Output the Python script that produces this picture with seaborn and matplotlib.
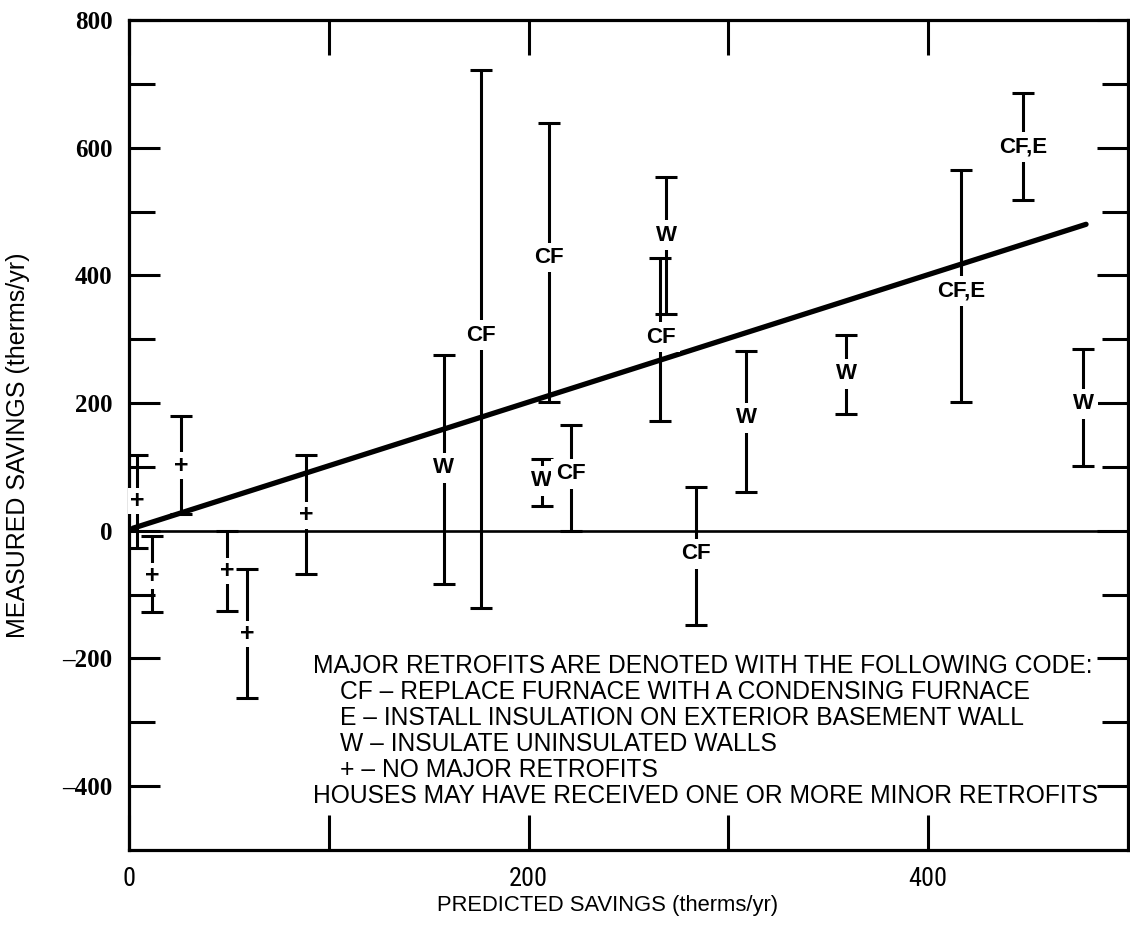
import matplotlib
matplotlib.use("Agg")
import matplotlib.pyplot as plt
import seaborn as sns
import pandas as pd

# ---------------- data ----------------
codes = ["+", "+", "+", "+", "+", "+", "W", "CF", "W", "CF", "CF", "CF", "W",
         "CF", "W", "W", "CF,E", "CF,E", "W"]
predicted = [4, 11.5, 26, 49, 59, 88.5, 157.5, 176, 206.5, 210, 221, 266, 269,
             284, 309, 359, 416.5, 447.5, 477.5]
measured_low = [-27, -127, 27, -125, -262, -68, -83, -121, 39, 201, 0, 172, 340,
                -148, 61, 183, 201, 518, 102]
measured_high = [118, -8, 180, 0, -60, 119, 276, 722, 113, 638, 166, 428, 554,
                 69, 282, 306, 565, 685, 285]
measured_mark = [47, -71, 102, -63, -162, 24, 99, 306, 78, 428, 89, 303, 463,
                 -36, 177, 246, 376, 601, 199]

fit_x = [2, 479]
fit_y = [4, 480]

x_major = [0, 200, 400]
x_major_labels = ["0", "200", "400"]
x_minor = [100, 300]
y_major = [-400, -200, 0, 200, 400, 600, 800]
y_major_labels = ["\u2013400", "\u2013200", "0", "200", "400", "600", "800"]
y_minor = [-300, -100, 100, 300, 500, 700]

legend_lines = [
    "MAJOR RETROFITS ARE DENOTED WITH THE FOLLOWING CODE:",
    "CF \u2013 REPLACE FURNACE WITH A CONDENSING FURNACE",
    "E \u2013 INSTALL INSULATION ON EXTERIOR BASEMENT WALL",
    "W \u2013 INSULATE UNINSULATED WALLS",
    "+ \u2013 NO MAJOR RETROFITS",
    "HOUSES MAY HAVE RECEIVED ONE OR MORE MINOR RETROFITS",
]
legend_indent = [0, 1, 1, 1, 1, 0]

df = pd.DataFrame({"code": codes, "x": predicted, "lo": measured_low,
                   "hi": measured_high, "mark": measured_mark})
fit_df = pd.DataFrame({"x": fit_x, "y": fit_y})

# ---------------- style ----------------
sns.set_theme(style="white")
plt.rcParams["font.family"] = ["Liberation Sans", "DejaVu Sans"]
for k in ["text.color", "axes.labelcolor", "xtick.color", "ytick.color",
          "axes.edgecolor"]:
    plt.rcParams[k] = "black"
NARROW = ["Liberation Sans Narrow", "Roboto Condensed", "Liberation Sans", "DejaVu Sans"]

W, H = 1130, 936
fig = plt.figure(figsize=(W / 100, H / 100), dpi=100)
fig.patch.set_facecolor("white")
L, R, T, B = 129, 1128, 20, 850
ax = fig.add_axes([L / W, 1 - B / H, (R - L) / W, (B - T) / H])
ax.set_facecolor("white")

for s in ax.spines.values():
    s.set_linewidth(2.3)
    s.set_color("black")

# zero line
ax.axhline(0, color="black", lw=1.9, zorder=2)

# regression line
sns.lineplot(data=fit_df, x="x", y="y", ax=ax, color="black", lw=3.8, zorder=3)

# error bars
ax.errorbar(df["x"], df["mark"],
            yerr=[df["mark"] - df["lo"], df["hi"] - df["mark"]],
            fmt="none", ecolor="black", elinewidth=2.2, capsize=8, capthick=2.2,
            zorder=4)

# code labels
for _, r in df.iterrows():
    if r["code"] == "+":
        ax.text(r["x"], r["mark"], "+", ha="center", va="center", fontsize=18,
                fontweight="bold", color="black", zorder=6,
                bbox=dict(boxstyle="square,pad=0.05", fc="white", ec="none"))
    else:
        ax.text(r["x"], r["mark"], r["code"], ha="center", va="center",
                fontsize=16, fontweight="bold", color="black", zorder=6,
                bbox=dict(boxstyle="square,pad=0.2", fc="white", ec="none"))

ax.set_xlim(0, 500)
ax.set_ylim(-500, 800)
ax.set_xlabel("")
ax.set_ylabel("")

# ticks
ax.set_xticks(x_major)
ax.set_xticklabels(x_major_labels, fontfamily=NARROW, fontsize=19)
ax.set_xticks(x_minor, minor=True)
ax.set_yticks(y_major)
ax.set_yticklabels(y_major_labels, fontfamily=["Liberation Serif"], fontsize=18,
                   fontweight="bold")
ax.set_yticks(y_minor, minor=True)
ax.tick_params(axis="both", which="both", direction="in", color="black",
               labelcolor="black", width=2.2, top=True, right=True,
               bottom=True, left=True)
ax.tick_params(axis="x", which="both", length=25, pad=12)
ax.tick_params(axis="y", which="major", length=22, pad=12)
ax.tick_params(axis="y", which="minor", length=19)
ax.grid(False)

# axis titles
fig.text(608 / W, 1 - 905 / H, "PREDICTED SAVINGS (therms/yr)", ha="center",
         va="center", fontsize=15.8, color="black")
fig.text(18 / W, 1 - 445 / H, "MEASURED SAVINGS (therms/yr)", ha="center",
         va="center", rotation=90, fontsize=18, color="black")

# legend block
for i, (line, ind) in enumerate(zip(legend_lines, legend_indent)):
    px = 313 if ind == 0 else 340
    py = 666 + 26 * i
    fig.text(px / W, 1 - py / H, line, ha="left", va="center", fontsize=17.7,
             color="black")

fig.savefig("out.png", dpi=100, facecolor="white")
